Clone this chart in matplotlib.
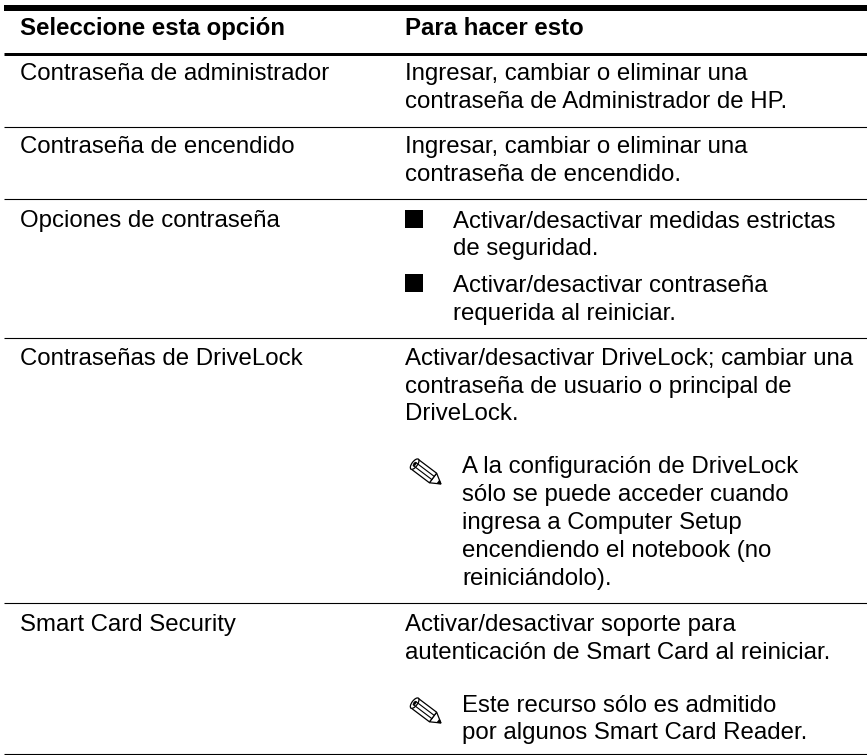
import matplotlib
matplotlib.use("Agg")
import matplotlib.pyplot as plt
from matplotlib.patches import Polygon, Ellipse, Rectangle
import numpy as np

headers = ["Seleccione esta opción", "Para hacer esto"]
left_labels = ["Contraseña de administrador", "Contraseña de encendido", "Opciones de contraseña",
               "Contraseñas de DriveLock", "Smart Card Security"]
left_base = [80, 153, 227, 365, 631]
right_lines = [
    (405, 80, "Ingresar, cambiar o eliminar una"),
    (405, 108, "contraseña de Administrador de HP."),
    (405, 153, "Ingresar, cambiar o eliminar una"),
    (405, 181, "contraseña de encendido."),
    (453, 228, "Activar/desactivar medidas estrictas"),
    (453, 255, "de seguridad."),
    (453, 292, "Activar/desactivar contraseña"),
    (453, 320, "requerida al reiniciar."),
    (405, 365, "Activar/desactivar DriveLock; cambiar una"),
    (405, 393, "contraseña de usuario o principal de"),
    (405, 420, "DriveLock."),
    (462, 473, "A la configuración de DriveLock"),
    (462, 501, "sólo se puede acceder cuando"),
    (462, 529, "ingresa a Computer Setup"),
    (462, 557, "encendiendo el notebook (no"),
    (462, 585, "reiniciándolo)."),
    (405, 631, "Activar/desactivar soporte para"),
    (405, 659, "autenticación de Smart Card al reiniciar."),
    (462, 712, "Este recurso sólo es admitido"),
    (462, 739, "por algunos Smart Card Reader."),
]
rules = [(8, 6), (53.5, 3), (127, 1.1), (199, 1.1), (338, 1.1), (603, 1.1), (754, 1.1)]
bullets = [(405, 210), (405, 274)]
notes = [(441, 484), (441, 723)]

fig = plt.figure(figsize=(8.67, 7.55), dpi=100)
ax = fig.add_axes([0, 0, 1, 1])
ax.set_xlim(0, 867)
ax.set_ylim(755, 0)
ax.axis("off")
plt.rcParams["font.family"] = ["Liberation Sans", "DejaVu Sans"]
fs = 17.3


def pencil(tx, ty):
    ang = np.deg2rad(180 + 37)
    u = np.array([np.cos(ang), np.sin(ang)])
    v = np.array([-u[1], u[0]])
    tip = np.array([tx, ty])

    def p(a, b):
        return tip + a * u + b * v

    kw = dict(fc="white", ec="black", lw=0.9, joinstyle="miter")
    ax.add_patch(Polygon([p(10, 6), p(0, 0), p(10, -6)], closed=True, **kw))
    ax.add_patch(Polygon([p(10, 6), p(33, 6), p(33, -6), p(10, -6)], closed=True, **kw))
    ax.add_patch(Polygon([p(0, 0), p(3.5, 2.1), p(3.5, -2.1)], closed=True, fc="black", ec="black", lw=0.5))
    for b in (-2, 2):
        ax.plot(*zip(p(10, b), p(33, b)), color="black", lw=0.8)
    ax.add_patch(Ellipse(p(33, 0), 5.5, 12.4, angle=np.rad2deg(ang), fc="white", ec="black", lw=0.9))
    ax.add_patch(Ellipse(p(33, 0), 2.2, 4.5, angle=np.rad2deg(ang), fc="black", ec="black", lw=0.4))


for y, lw in rules:
    ax.plot([4, 867], [y, y], color="black", lw=lw * 0.72, solid_capstyle="butt")
ax.text(20, 35, headers[0], fontsize=fs, fontweight="bold", va="baseline")
ax.text(405, 35, headers[1], fontsize=fs, fontweight="bold", va="baseline")
for y, s in zip(left_base, left_labels):
    ax.text(20, y, s, fontsize=fs, va="baseline")
for x, y, s in right_lines:
    ax.text(x, y, s, fontsize=fs, va="baseline")
for x, y in bullets:
    ax.add_patch(Rectangle((x, y), 18, 18, fc="black", ec="none"))
for x, y in notes:
    pencil(x, y)
fig.savefig("out.png", dpi=100)
